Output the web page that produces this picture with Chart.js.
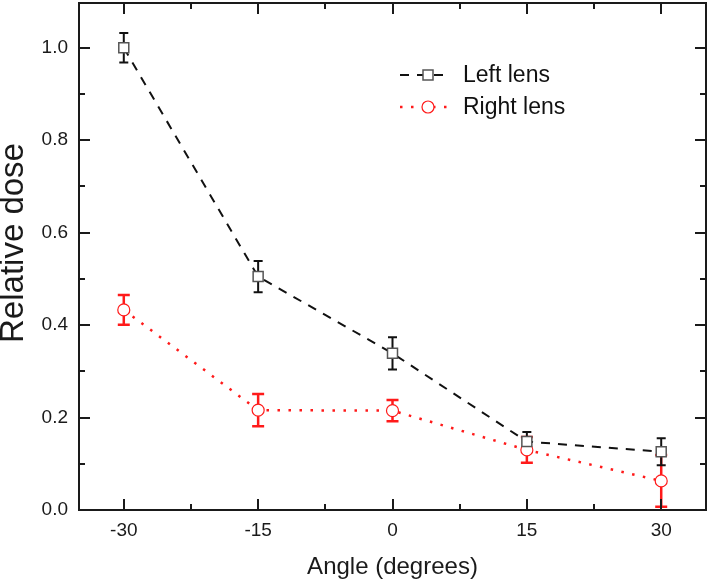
<!DOCTYPE html>
<html>
<head>
<meta charset="utf-8">
<script src="https://cdn.jsdelivr.net/npm/chart.js@4.4.1/dist/chart.umd.min.js"></script>
<style>
  html, body { margin: 0; padding: 0; background: #fff; }
  #wrap { width: 709px; height: 582px; }
</style>
</head>
<body>
<div id="wrap"><canvas id="myChart"></canvas></div>
<script>
// data
const angles = [-30, -15, 0, 15, 30];
const leftDose = [1.0, 0.505, 0.339, 0.148, 0.126];
const leftErr = [0.032, 0.034, 0.035, 0.021, 0.029];
const rightDose = [0.433, 0.216, 0.215, 0.13, 0.063];
const rightErr = [0.032, 0.035, 0.023, 0.028, 0.056];

const xTicks = [-30, -15, 0, 15, 30];
const xMinor = [-22.5, -7.5, 7.5, 22.5];
const yTicks = [0, 0.2, 0.4, 0.6, 0.8, 1.0];
const yMinor = [0.1, 0.3, 0.5, 0.7, 0.9];

const FONT = "'Liberation Sans', Arial, sans-serif";
const AXIS = "#1a1a1a";
const RED = "#ff1a1a";

const toPts = (ys) => angles.map((a, i) => ({ x: a, y: ys[i] }));

/* barras de error, marco y leyenda */
const extras = {
  id: "extras",
  beforeDatasetsDraw(chart) {
    const { ctx, scales } = chart;
    const bars = [
      { ys: rightDose, err: rightErr, color: RED, cap: 6, width: 2.5 },
      { ys: leftDose, err: leftErr, color: "#111", cap: 4.5, width: 2 },
    ];
    ctx.save();
    bars.forEach((b) => {
      ctx.strokeStyle = b.color;
      ctx.lineWidth = b.width;
      angles.forEach((a, i) => {
        const px = scales.x.getPixelForValue(a);
        const top = scales.y.getPixelForValue(b.ys[i] + b.err[i]);
        const bot = scales.y.getPixelForValue(b.ys[i] - b.err[i]);
        ctx.beginPath();
        ctx.moveTo(px, top);
        ctx.lineTo(px, bot);
        ctx.moveTo(px - b.cap, top);
        ctx.lineTo(px + b.cap, top);
        ctx.moveTo(px - b.cap, bot);
        ctx.lineTo(px + b.cap, bot);
        ctx.stroke();
      });
    });
    ctx.restore();
  },
  afterDraw(chart) {
    const { ctx, chartArea: ca, scales } = chart;
    ctx.save();
    ctx.strokeStyle = AXIS;
    ctx.lineWidth = 2;
    ctx.strokeRect(ca.left, ca.top, ca.right - ca.left, ca.bottom - ca.top);

    // ticks hacia adentro
    const tick = (x1, y1, x2, y2) => {
      ctx.beginPath();
      ctx.moveTo(x1, y1);
      ctx.lineTo(x2, y2);
      ctx.stroke();
    };
    xTicks.forEach((v) => {
      const px = Math.round(scales.x.getPixelForValue(v));
      tick(px, ca.bottom, px, ca.bottom - 11);
      tick(px, ca.top, px, ca.top + 11);
    });
    xMinor.forEach((v) => {
      const px = Math.round(scales.x.getPixelForValue(v));
      tick(px, ca.bottom, px, ca.bottom - 6);
      tick(px, ca.top, px, ca.top + 6);
    });
    yTicks.forEach((v) => {
      const py = Math.round(scales.y.getPixelForValue(v));
      tick(ca.left, py, ca.left + 11, py);
      tick(ca.right, py, ca.right - 11, py);
    });
    yMinor.forEach((v) => {
      const py = Math.round(scales.y.getPixelForValue(v));
      tick(ca.left, py, ca.left + 6, py);
      tick(ca.right, py, ca.right - 6, py);
    });

    // titulo del eje y
    ctx.save();
    ctx.translate(14, 243);
    ctx.rotate(-Math.PI / 2);
    ctx.fillStyle = AXIS;
    ctx.font = "33px " + FONT;
    ctx.textAlign = "center";
    ctx.textBaseline = "middle";
    ctx.fillText("Relative dose", 0, 0);
    ctx.restore();

    // leyenda
    const rows = [
      { label: "Left lens", y: 75, color: "#111", dash: [9, 8], width: 2, marker: "rect" },
      { label: "Right lens", y: 107, color: RED, dash: [2.5, 8.5], width: 2.5, marker: "circle" },
    ];
    rows.forEach((r) => {
      ctx.strokeStyle = r.color;
      ctx.lineWidth = r.width;
      ctx.setLineDash(r.dash);
      tick(400, r.y, 448, r.y);
      ctx.setLineDash([]);
      ctx.fillStyle = "#fff";
      if (r.marker === "rect") {
        ctx.strokeStyle = "#555";
        ctx.lineWidth = 1.5;
        ctx.fillRect(423, r.y - 5, 10, 10);
        ctx.strokeRect(423, r.y - 5, 10, 10);
      } else {
        ctx.lineWidth = 1.2;
        ctx.beginPath();
        ctx.arc(428, r.y, 6, 0, Math.PI * 2);
        ctx.fill();
        ctx.stroke();
      }
      ctx.fillStyle = "#111";
      ctx.font = "23px " + FONT;
      ctx.textAlign = "left";
      ctx.textBaseline = "middle";
      ctx.fillText(r.label, 463, r.y + 1);
    });
    ctx.restore();
  },
};

const ctx = document.getElementById("myChart");

new Chart(ctx, {
  type: "line",
  data: {
    datasets: [
      {
        label: "Left lens",
        data: toPts(leftDose),
        borderColor: "#111",
        borderWidth: 2,
        borderDash: [9, 8],
        pointStyle: "rect",
        pointRadius: 7.07,
        pointBorderColor: "#555",
        pointBorderWidth: 1.5,
        pointBackgroundColor: "#fff",
        tension: 0,
      },
      {
        label: "Right lens",
        data: toPts(rightDose),
        borderColor: RED,
        borderWidth: 2.5,
        borderDash: [2.5, 8.5],
        pointStyle: "circle",
        pointRadius: 6,
        pointBorderColor: RED,
        pointBorderWidth: 1.2,
        pointBackgroundColor: "#fff",
        tension: 0,
      },
    ],
  },
  options: {
    responsive: true,
    maintainAspectRatio: false,
    animation: false,
    layout: { autoPadding: false, padding: { top: 3, right: 3, left: 0, bottom: 0 } },
    plugins: { legend: { display: false }, tooltip: { enabled: false } },
    scales: {
      x: {
        type: "linear",
        min: -35,
        max: 35,
        afterBuildTicks: (s) => { s.ticks = xTicks.map((v) => ({ value: v })); },
        afterFit: (s) => {
          s.height = 72;
          s.paddingLeft = 0;
          s.paddingRight = 0;
        },
        grid: { display: false, drawTicks: false },
        border: { display: false },
        ticks: { padding: 9, color: AXIS, font: { family: FONT, size: 19 } },
        title: {
          display: true,
          text: "Angle (degrees)",
          color: AXIS,
          padding: { top: 0, bottom: 0 },
          font: { family: FONT, size: 24 },
        },
      },
      y: {
        type: "linear",
        min: 0,
        max: 1.097,
        afterBuildTicks: (s) => { s.ticks = yTicks.map((v) => ({ value: v })); },
        afterFit: (s) => {
          s.width = 79;
          s.paddingTop = 0;
          s.paddingBottom = 0;
        },
        grid: { display: false, drawTicks: false },
        border: { display: false },
        ticks: {
          padding: 11,
          color: AXIS,
          font: { family: FONT, size: 19 },
          callback: (v) => v.toFixed(1),
        },
        title: { display: false },
      },
    },
  },
  plugins: [extras],
});
</script>
</body>
</html>
